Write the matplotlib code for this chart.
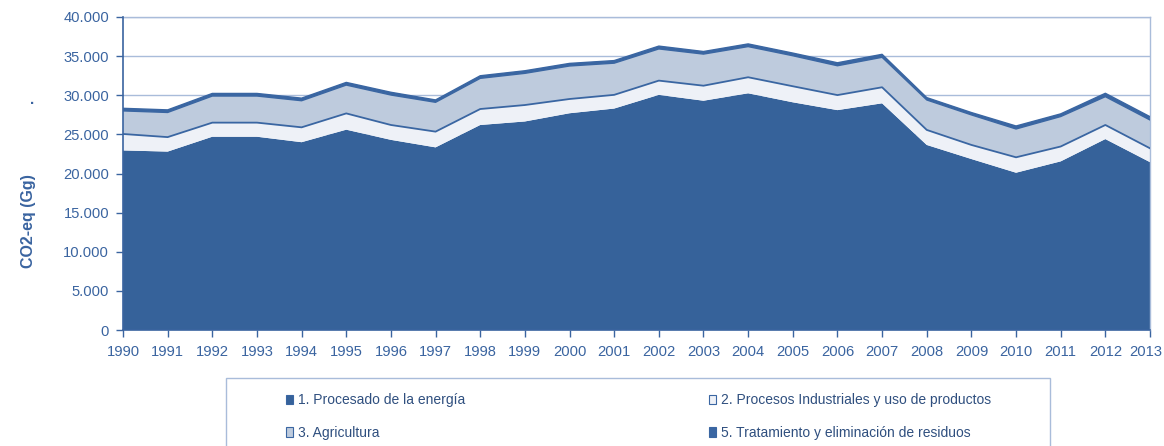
import matplotlib
matplotlib.use("Agg")
import matplotlib.pyplot as plt
import matplotlib.transforms as mtransforms
from matplotlib.patches import Patch, Rectangle
import numpy as np

years = list(range(1990, 2014))
energia = [22950, 22800, 24700, 24700, 24000, 25600, 24300, 23340, 26200, 26650,
           27700, 28300, 30050, 29300, 30250, 29100, 28100, 28970, 23650, 21850,
           20100, 21550, 24400, 21450]
industria = [2100, 1850, 1800, 1800, 1900, 2080, 1900, 2010, 2040, 2100,
             1820, 1750, 1820, 1920, 2050, 2050, 1920, 2050, 1920, 1800,
             1970, 1900, 1800, 1770]
agricultura = [2950, 3150, 3400, 3400, 3400, 3620, 3830, 3750, 3920, 4050,
               4220, 4050, 4050, 4040, 3920, 3900, 3750, 3830, 3830, 3840,
               3620, 3830, 3620, 3620]
residuos = [330, 330, 330, 330, 330, 340, 350, 300, 330, 330,
            330, 330, 360, 330, 340, 340, 380, 380, 300, 300,
            380, 340, 430, 420]
labels = ["1. Procesado de la energía",
          "2. Procesos Industriales y uso de productos",
          "3. Agricultura",
          "5. Tratamiento y eliminación de residuos"]
ylabel = "CO2-eq (Gg)"

plt.rcParams['font.family'] = ['Liberation Sans', 'DejaVu Sans']
txt = '#3A64A0'
dark = '#36629A'
light_ind = '#EEF1F7'
agr_c = '#BECBDD'
waste_c = '#3A66A2'
grid_c = '#A9BCDA'

fig = plt.figure(figsize=(11.64, 4.46), dpi=100)
ax = fig.add_axes([123/1164, 1-330/446, (1150-123)/1164, (330-17)/446])

x = np.array(years)
ax.stackplot(x, energia, industria, agricultura, residuos,
             colors=[dark, light_ind, agr_c, waste_c], linewidth=0, zorder=2)
c1 = np.array(energia) + np.array(industria)
c3 = c1 + np.array(agricultura)
c4 = c3 + np.array(residuos)
ax.plot(x, c1, color=waste_c, lw=1.3, zorder=3)
ax.plot(x, c4, color=waste_c, lw=1.0, zorder=3)
ax.plot(x, c3, color=waste_c, lw=1.0, zorder=3)

ax.set_xlim(1990, 2013)
ax.set_ylim(0, 40000)
yt = list(range(0, 40001, 5000))
ax.set_yticks(yt)
ax.set_yticklabels([f"{v:,}".replace(",", ".") for v in yt])
ax.set_xticks(years)
ax.set_xticklabels([str(y) for y in years])
ax.grid(axis='y', color=grid_c, lw=1, zorder=1)
ax.set_axisbelow(True)

for s in ['top', 'right']:
    ax.spines[s].set_color(grid_c)
    ax.spines[s].set_linewidth(1)
for s in ['left', 'bottom']:
    ax.spines[s].set_color(txt)
    ax.spines[s].set_linewidth(1.2)
    ax.spines[s].set_zorder(4)
ax.tick_params(axis='both', colors=txt, labelcolor=txt, labelsize=10.6, length=5, width=1)
ax.tick_params(axis='y', pad=5)
ax.tick_params(axis='x', pad=6)

# keep the last year label inside the figure
last = ax.get_xticklabels()[-1]
last.set_transform(last.get_transform() +
                   mtransforms.ScaledTranslation(-4/100, 0, fig.dpi_scale_trans))

fig.text(29/1164, 1-221/446, ylabel, rotation=90, ha='center', va='center',
         fontsize=11.5, fontweight='bold', color=txt)
fig.text(32/1164, 1-100/446, ".", ha='center', va='center', fontsize=11,
         fontweight='bold', color=txt)

# legend box
fig.patches.append(Rectangle((226/1164, -0.05), (1050-226)/1164, (0.05 + 1-378/446),
                             transform=fig.transFigure, facecolor='white',
                             edgecolor=grid_c, lw=1))
handles = [Patch(facecolor=dark, edgecolor=waste_c, lw=0.8),
           Patch(facecolor=light_ind, edgecolor=waste_c, lw=0.8),
           Patch(facecolor=agr_c, edgecolor=waste_c, lw=0.8),
           Patch(facecolor=waste_c, edgecolor=waste_c, lw=0.8)]
order = [0, 2, 1, 3]
leg = fig.legend([handles[i] for i in order], [labels[i] for i in order], ncol=2,
                 loc='lower left', mode='expand',
                 bbox_to_anchor=(286/1164, 1-440/446, (991-286)/1164, 60/446),
                 frameon=False, fontsize=10, handlelength=0.5, handleheight=0.7,
                 handletextpad=0.35, labelspacing=1.35, borderpad=0, borderaxespad=0)
for t in leg.get_texts():
    t.set_color('#2F4F7F')

fig.savefig("out.png", dpi=100)
